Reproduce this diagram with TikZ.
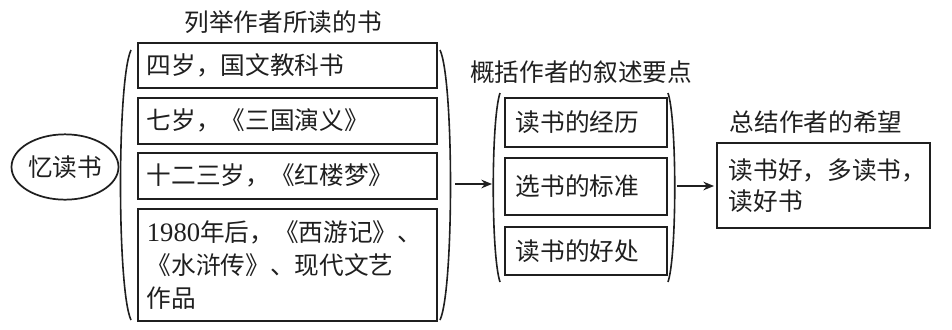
\documentclass[tikz,border=0pt]{standalone}
\usepackage{fontspec}
\setmainfont{Noto Sans CJK SC}
\newfontfamily\latfont{Liberation Serif}
\usetikzlibrary{shapes.geometric,arrows.meta}
\begin{document}
\begin{tikzpicture}[x=0.75pt,y=-0.75pt,
  line width=1.3pt, color=black!88,
  font=\fontsize{18.5pt}{24.75pt}\selectfont,
  box/.style={draw, rectangle, anchor=north west, inner ysep=0pt, align=left},
  gone/.style={box, minimum width=224.25pt, inner xsep=6.75pt, text width=210.75pt},
  gtwo/.style={box, minimum width=121.5pt, inner xsep=8.25pt, text width=105pt},
  gthree/.style={box, minimum width=159.75pt, inner xsep=9pt, text width=141.75pt,
    font=\fontsize{18.5pt}{23.25pt}\selectfont},
  title/.style={inner sep=0pt},
  paren/.style={line width=1.2pt},
  arr/.style={-{Stealth[length=8pt,width=6.5pt]}, line width=1.2pt}
]
\useasboundingbox (0,0) rectangle (952,329);

% root
\node[draw, ellipse, minimum width=80.25pt, minimum height=49pt, inner sep=0pt] (root) at (65,167) {忆读书};

% group 1
\node[title] (t1) at (283,22) {列举作者所读的书};
\node[gone, minimum height=33.75pt] (b1) at (137,42) {四岁，国文教科书};
\node[gone, minimum height=34.5pt] (b2) at (137,97) {七岁，《三国演义》};
\node[gone, minimum height=34.5pt] (b3) at (137,152) {十二三岁，《红楼梦》};
\node[gone, minimum height=84pt] (b4) at (137,208) {{\latfont\fontsize{20pt}{24.75pt}\selectfont 1980}年后，《西游记》、\\《水浒传》、现代文艺\\作品};
\draw[paren] (131,50) .. controls (117,80) and (117,290) .. (131,320);
\draw[paren] (440,50) .. controls (454,80) and (454,290) .. (440,320);

% group 2
\node[title] (t2) at (581,72) {概括作者的叙述要点};
\node[gtwo, minimum height=36.75pt] (c1) at (504,97) {读书的经历};
\node[gtwo, minimum height=42.75pt] (c2) at (504,157) {选书的标准};
\node[gtwo, minimum height=36pt] (c3) at (504,226) {读书的好处};
\draw[paren] (500,93) .. controls (491,120) and (491,255) .. (500,282);
\draw[paren] (668,93) .. controls (677,120) and (677,255) .. (668,282);

% group 3
\node[title] (t3) at (816,122) {总结作者的希望};
\node[gthree, minimum height=63.75pt] (d1) at (716,142) {读书好，多读书，\\读好书};

% connectors
\coordinate (a1s) at (455,184);
\coordinate (a1e) at (492,184);
\coordinate (a2s) at (677,186);
\coordinate (a2e) at (714,186);
\draw[arr] (a1s) -- (a1e);
\draw[arr] (a2s) -- (a2e);
\end{tikzpicture}
\end{document}
